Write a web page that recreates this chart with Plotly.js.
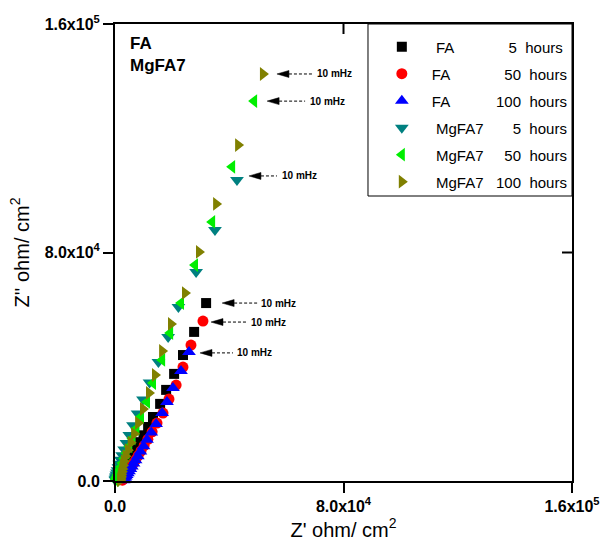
<!DOCTYPE html>
<html>
<head>
<meta charset="utf-8">
<script src="https://cdn.plot.ly/plotly-3.0.1.min.js"></script>
<style>html,body{margin:0;padding:0;background:#fff;}#chart{width:603px;height:541px;}</style>
</head>
<body>
<div id="chart"></div>
<script>
// Values in units of 1e4 ohm/cm2 (scaled below)
const fa5_x   = [3.19, 2.77, 2.38, 2.07, 1.79, 1.58, 1.33, 1.16, 1.00, 0.88, 0.77, 0.67, 0.58, 0.51, 0.45, 0.39, 0.34, 0.30, 0.26, 0.23, 0.20, 0.17, 0.15, 0.13];
const fa5_y   = [6.23, 5.22, 4.41, 3.75, 3.19, 2.70, 2.24, 1.89, 1.60, 1.36, 1.15, 0.97, 0.82, 0.69, 0.58, 0.48, 0.40, 0.33, 0.27, 0.21, 0.16, 0.12, 0.08, 0.05];
const fa50_x  = [3.08, 2.66, 2.38, 2.14, 1.89, 1.68, 1.47, 1.30, 1.15, 1.02, 0.91, 0.81, 0.73, 0.65, 0.59, 0.53, 0.48, 0.44, 0.40, 0.37, 0.34, 0.31, 0.28, 0.26];
const fa50_y  = [5.60, 4.76, 3.99, 3.36, 2.87, 2.38, 2.03, 1.72, 1.46, 1.24, 1.05, 0.89, 0.75, 0.63, 0.53, 0.44, 0.37, 0.30, 0.24, 0.19, 0.14, 0.10, 0.06, 0.03];
const fa100_x = [2.59, 2.31, 2.03, 1.82, 1.65, 1.44, 1.27, 1.12, 1.00, 0.89, 0.80, 0.72, 0.65, 0.59, 0.54, 0.49, 0.45, 0.41, 0.38, 0.35, 0.32, 0.30];
const fa100_y = [4.52, 3.85, 3.26, 2.77, 2.38, 2.00, 1.70, 1.44, 1.22, 1.03, 0.87, 0.73, 0.61, 0.51, 0.42, 0.34, 0.27, 0.21, 0.16, 0.11, 0.07, 0.03];
const mg5_x   = [4.27, 3.50, 2.84, 2.22, 1.86, 1.52, 1.21, 0.98, 0.79, 0.63, 0.50, 0.40, 0.32, 0.25, 0.20, 0.15, 0.12, 0.09, 0.07, 0.05, 0.04, 0.03, 0.02, 0.01];
const mg5_y   = [10.54, 8.79, 7.32, 6.09, 5.04, 4.17, 3.45, 2.85, 2.36, 1.95, 1.61, 1.33, 1.10, 0.90, 0.74, 0.60, 0.48, 0.38, 0.30, 0.23, 0.17, 0.12, 0.08, 0.04];
const mg50_x  = [4.87, 4.10, 3.40, 2.80, 2.31, 1.93, 1.65, 1.33, 1.12, 0.91, 0.75, 0.61, 0.50, 0.40, 0.32, 0.26, 0.21, 0.16, 0.12, 0.09, 0.07, 0.05, 0.03, 0.02];
const mg50_y  = [13.30, 11.00, 9.07, 7.56, 6.23, 5.18, 4.24, 3.43, 2.77, 2.25, 1.83, 1.49, 1.21, 0.98, 0.79, 0.63, 0.50, 0.39, 0.30, 0.22, 0.16, 0.11, 0.07, 0.03];
const mg100_x = [5.18, 4.31, 3.54, 2.94, 2.45, 1.96, 1.65, 1.40, 1.19, 0.98, 0.81, 0.67, 0.55, 0.45, 0.37, 0.31, 0.28, 0.26, 0.24, 0.22, 0.21, 0.20, 0.19, 0.18];
const mg100_y = [14.25, 11.76, 9.70, 8.02, 6.58, 5.50, 4.55, 3.71, 3.08, 2.52, 2.03, 1.65, 1.34, 1.08, 0.87, 0.69, 0.54, 0.42, 0.32, 0.24, 0.17, 0.11, 0.06, 0.02];

const seriesNames = [
  "\u00a0FA" + "\u00a0".repeat(13) + "5\u00a0\u00a0hours",
  "FA" + "\u00a0".repeat(13) + "50\u00a0\u00a0hours",
  "FA" + "\u00a0".repeat(11) + "100\u00a0\u00a0hours",
  "\u00a0MgFA7" + "\u00a0".repeat(7) + "5\u00a0\u00a0hours",
  "\u00a0MgFA7" + "\u00a0".repeat(5) + "50\u00a0\u00a0hours",
  "\u00a0MgFA7" + "\u00a0".repeat(3) + "100\u00a0\u00a0hours"
];
const freqLabel = "10 mHz";
const tickVals = [0, 80000, 160000];
const tickText = ["<b>0.0</b>", "<b>8.0x10<sup>4</sup></b>", "<b>1.6x10<sup>5</sup></b>"];
const scale = 1e4;

const xs = [fa5_x, fa50_x, fa100_x, mg5_x, mg50_x, mg100_x];
const ys = [fa5_y, fa50_y, fa100_y, mg5_y, mg50_y, mg100_y];
const colors = ["#000000", "#ff0000", "#0000ff", "#008080", "#00ee00", "#808000"];
const symbols = ["square", "circle", "triangle-up", "triangle-down", "triangle-left", "triangle-right"];
const sizes = [10, 11, 12, 12, 12, 12];
// annotation pixel offsets: [arrow tip, head end, dash end, text start, y shift]
const annOff = [
  [16, 28, 51, 53, 0],
  [8, 20, 44, 46, -1],
  [11, 23, 44, 46, -1],
  [12, 24, 40, 43, 4],
  [13, 25, 51, 54, 0],
  [14, 26, 49, 52, 0]
];

const F = "Arial, 'Liberation Sans', sans-serif";
const traces = xs.map((xv, i) => ({
  type: "scatter", mode: "markers",
  x: xv.map(v => v * scale), y: ys[i].map(v => v * scale),
  name: seriesNames[i], legendgroup: "g" + i,
  marker: {color: colors[i], symbol: symbols[i], size: sizes[i], line: {width: 0}},
  cliponaxis: false, showlegend: true
}));

const annotations = [];
const shapes = [];
xs.forEach((xv, i) => {
  const X = xv[0] * scale, Y = ys[i][0] * scale;
  const o = annOff[i];
  const yy = o[4];
  // filled arrowhead
  shapes.push({type: "path", xref: "x", yref: "y", xsizemode: "pixel", ysizemode: "pixel",
    xanchor: X, yanchor: Y,
    path: `M ${o[0]},${yy} L ${o[1]},${yy + 3.5} L ${o[1]},${yy - 3.5} Z`,
    fillcolor: "#000", line: {color: "#000", width: 0.5}});
  // dashed shaft
  shapes.push({type: "line", xref: "x", yref: "y", xsizemode: "pixel", ysizemode: "pixel",
    xanchor: X, yanchor: Y, x0: o[1], x1: o[2], y0: yy, y1: yy,
    line: {color: "#000", width: 1, dash: "3px,2px"}});
  annotations.push({x: X, y: Y, xref: "x", yref: "y", text: "<b>" + freqLabel + "</b>",
    showarrow: false, xanchor: "left", yanchor: "middle", xshift: o[3], yshift: yy,
    font: {family: F, size: 10, color: "#000"}});
});
annotations.push({xref: "paper", yref: "paper", x: 0.028, y: 0.983, xanchor: "left", yanchor: "top",
  align: "left", showarrow: false, text: "<b>FA</b><br><b>MgFA7</b>",
  font: {family: F, size: 17, color: "#000"}});

// mirrored inward ticks on top and right
tickVals.slice(1, 2).forEach(t => {
  shapes.push({type: "line", xref: "x", yref: "paper", ysizemode: "pixel", yanchor: 1,
    x0: t, x1: t, y0: 0, y1: -10, line: {color: "#000", width: 2}});
  shapes.push({type: "line", xref: "paper", yref: "y", xsizemode: "pixel", xanchor: 1,
    y0: t, y1: t, x0: 0, x1: -10, line: {color: "#000", width: 2}});
});
// legend frame
shapes.push({type: "rect", xref: "paper", yref: "paper", x0: 0.5536, x1: 1, y0: 0.6236, y1: 1,
  line: {color: "#000", width: 1}, fillcolor: "rgba(0,0,0,0)"});

const axisCommon = {
  range: [0, 160000], tickvals: tickVals, ticktext: tickText,
  showgrid: false, zeroline: false, showline: true, linecolor: "#000", linewidth: 2,
  mirror: true, ticks: "outside", ticklen: 10, tickwidth: 2, tickcolor: "#000",
  tickfont: {family: F, size: 16, color: "#000"}, automargin: false
};

const layout = {
  width: 603, height: 541,
  margin: {l: 115, r: 31, t: 24, b: 60},
  paper_bgcolor: "#fff", plot_bgcolor: "#fff",
  font: {family: F, color: "#000"},
  xaxis: Object.assign({}, axisCommon, {
    title: {text: "Z' ohm/ cm<sup>2</sup>", font: {family: F, size: 20, color: "#000"}, standoff: 3}
  }),
  yaxis: Object.assign({}, axisCommon, {
    title: {text: "Z'' ohm/ cm<sup>2</sup>", font: {family: F, size: 20, color: "#000"}, standoff: 10}
  }),
  legend: {x: 0.562, y: 0.986, xanchor: "left", yanchor: "top", bgcolor: "rgba(0,0,0,0)",
    borderwidth: 0, font: {family: F, size: 15, color: "#000"},
    tracegroupgap: 4.5, itemwidth: 50, traceorder: "grouped"},
  annotations: annotations, shapes: shapes
};

Plotly.newPlot("chart", traces, layout, {displayModeBar: false, staticPlot: true});
</script>
</body>
</html>
